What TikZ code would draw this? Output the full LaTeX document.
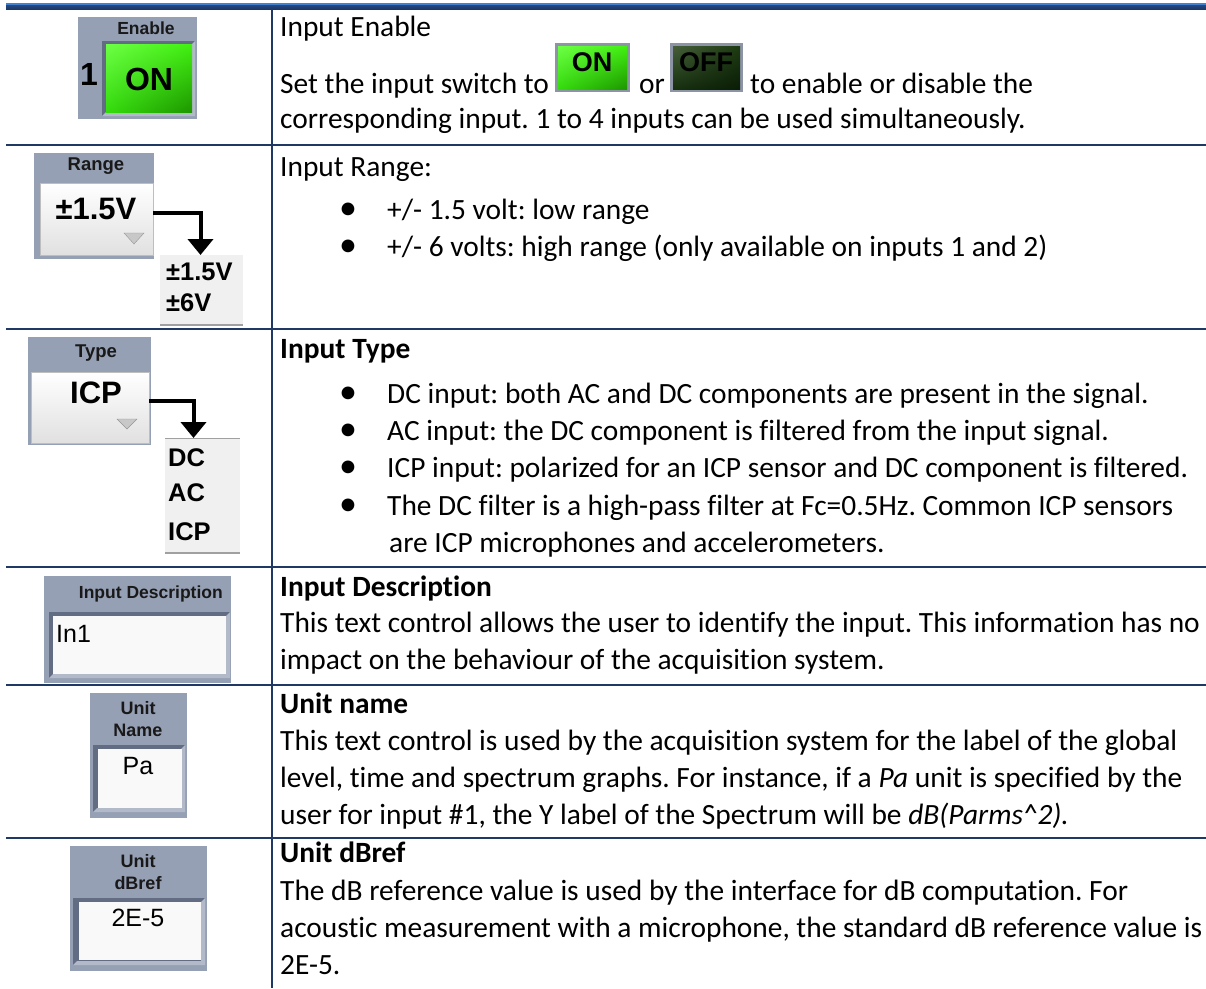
\documentclass[tikz,border=0pt]{standalone}
\usepackage{fontspec}
\setmainfont[Ligatures=NoCommon]{Carlito}
\newfontfamily\arialf{Liberation Sans}
\usetikzlibrary{arrows.meta,shadings}
\frenchspacing
\definecolor{panel}{RGB}{150,160,181}
\definecolor{navy}{RGB}{31,56,100}
\definecolor{barlight}{RGB}{66,128,208}
\definecolor{bardark}{RGB}{28,56,104}
\definecolor{bdark}{RGB}{98,108,130}
\definecolor{blight}{RGB}{178,186,202}
\definecolor{fieldbg}{RGB}{249,249,249}
\definecolor{listbg}{RGB}{240,240,240}
\definecolor{listline}{RGB}{160,160,160}
\definecolor{frameg}{RGB}{140,148,166}
\definecolor{gUL}{RGB}{110,255,70}
\definecolor{gUR}{RGB}{64,240,16}
\definecolor{gLL}{RGB}{52,220,12}
\definecolor{gLR}{RGB}{30,150,0}
\definecolor{dUL}{RGB}{70,95,58}
\definecolor{dUR}{RGB}{28,58,16}
\definecolor{dLL}{RGB}{22,48,14}
\definecolor{dLR}{RGB}{10,28,6}
\definecolor{tri}{RGB}{200,200,200}
\definecolor{trid}{RGB}{150,150,150}
\definecolor{btnedge}{RGB}{190,190,190}
\newcommand\mybevel[4]{%
  \fill[bdark] (#1,#2) rectangle (#3,#4);
  \fill[blight] (#3,#2) -- (#3,#4) -- (#1,#4) -- (#1+4,#4-4) -- (#3-4,#4-4) -- (#3-4,#2+4) -- cycle;}
\tikzset{
  box/.style={inner sep=0pt, outer sep=0pt, anchor=north west, draw=none},
  wlab/.style={inner sep=0pt, font=\arialf\bfseries\fontsize{17.5}{22}\selectfont, text=black!90, align=center},
  wbig/.style={inner sep=0pt, font=\arialf\bfseries\fontsize{31}{33}\selectfont, text=black},
  witem/.style={inner sep=0pt, anchor=west, font=\arialf\bfseries\fontsize{25.5}{27}\selectfont, text=black},
  wval/.style={inner sep=0pt, font=\arialf\fontsize{25}{26}\selectfont, text=black},
  btn/.style={box, top color=white, bottom color=black!12, draw=btnedge, line width=1pt},
  body/.style={inner sep=0pt, anchor=base west, font=\fontsize{29.4}{35}\selectfont},
  bodyb/.style={body, font=\fontsize{29.4}{35}\selectfont\bfseries},
  bul/.style={inner sep=0pt, anchor=base, font=\fontsize{36}{35}\selectfont},
  grid/.style={navy, line width=2pt},
  conn/.style={line width=4pt, -{Triangle[width=25pt,length=16pt]}}
}
\begin{document}
\begin{tikzpicture}[x=1pt,y=-1pt]
\useasboundingbox (0,0) rectangle (1206,988);
% top bar
\fill[barlight] (6,3) rectangle (1206,5.5);
\shade[top color=bardark!80!barlight, bottom color=bardark] (6,5.5) rectangle (1206,9);
% grid
\draw[grid] (272,9) -- (272,988);
\foreach \yy in {145,329,567,685,838} \draw[grid] (6,\yy) -- (1206,\yy);

% ---------- Row 1: Enable
\node[box, fill=panel, minimum width=119pt, minimum height=102pt] (enpanel) at (78,17) {};
\node[wlab] (enlab) at (146,28) {Enable};
\node[wbig, font=\arialf\bfseries\fontsize{32}{33}\selectfont] (en1) at (89,74) {1};
\mybevel{102}{41}{195}{116}
\node[box, upper left=gUL, upper right=gUR, lower left=gLL, lower right=gLR,
      minimum width=86pt, minimum height=68pt] (enbtn) at (106,44) {};
\node[wbig, font=\arialf\bfseries\fontsize{32}{33}\selectfont] (enon) at (149,79) {ON};

\node[body] (r1a) at (280,36) {Input Enable};
\node[body] (r1b) at (280,93) {Set the input switch to};
\node[box, fill=frameg, minimum width=75pt, minimum height=49pt] (onframe) at (555,43) {};
\node[box, upper left=gUL, upper right=gUR, lower left=gLL, lower right=gLR,
      minimum width=69pt, minimum height=43pt] (oninner) at (558,46) {};
\node[inner sep=0pt, font=\arialf\bfseries\fontsize{27}{29}\selectfont] (ontxt) at (592,62) {ON};
\node[body] (r1or) at (639,93) {or};
\node[box, fill=frameg, minimum width=73pt, minimum height=49pt] (offframe) at (670,43) {};
\node[box, upper left=dUL, upper right=dUR, lower left=dLL, lower right=dLR,
      minimum width=67pt, minimum height=43pt] (offinner) at (673,46) {};
\node[inner sep=0pt, font=\arialf\bfseries\fontsize{27}{29}\selectfont, text=black] (offtxt) at (706,62) {OFF};
\node[body] (r1c) at (750,93) {to enable or disable the};
\node[body] (r1d) at (280,128) {corresponding input. 1 to 4 inputs can be used simultaneously.};

% ---------- Row 2: Range
\node[box, fill=panel, minimum width=120pt, minimum height=106pt] (rgpanel) at (34,153) {};
\node[wlab, font=\arialf\bfseries\fontsize{18.5}{20}\selectfont] (rglab) at (96,166) {Range};
\node[btn, minimum width=113pt, minimum height=72pt] (rgbtn) at (40,183) {};
\node[wbig] (rgval) at (96,209) {±1.5V};
\filldraw[fill=tri, draw=trid] (124,233) -- (144,233) -- (134,244) -- cycle;
\node[box, fill=listbg, minimum width=83pt, minimum height=70pt] (rglist) at (160,255) {};
\draw[listline, line width=1.5pt] (rglist.south west) -- (rglist.south east);
\node[witem] (rgi1) at (166,272) {±1.5V};
\node[witem] (rgi2) at (166,303) {±6V};
\draw[conn] ([yshift=6pt]rgbtn.east) -| ([xshift=-1pt]rglist.north);

\node[body] (r2a) at (280,176) {Input Range:};
\node[bul] (r2b1) at (348,219) {•};
\node[body] (r2t1) at (387,219) {+/- 1.5 volt: low range};
\node[bul] (r2b2) at (348,256) {•};
\node[body] (r2t2) at (387,256) {+/- 6 volts: high range (only available on inputs 1 and 2)};

% ---------- Row 3: Type
\node[box, fill=panel, minimum width=123pt, minimum height=108pt] (tppanel) at (28,337) {};
\node[wlab, font=\arialf\bfseries\fontsize{18.5}{20}\selectfont] (tplab) at (96,353) {Type};
\node[btn, minimum width=118pt, minimum height=71pt] (tpbtn) at (31,372) {};
\node[wbig] (tpval) at (96,393) {ICP};
\filldraw[fill=tri, draw=trid] (117,419) -- (137,419) -- (127,429) -- cycle;
\node[box, fill=listbg, minimum width=75pt, minimum height=115pt] (tplist) at (165,438) {};
\draw[listline, line width=1pt] (tplist.north west) -- (tplist.north east);
\draw[listline, line width=1.5pt] (tplist.south west) -- (tplist.south east);
\node[witem] (tpi1) at (168,458) {DC};
\node[witem] (tpi2) at (168,493) {AC};
\node[witem] (tpi3) at (168,532) {ICP};
\draw[conn] ([yshift=7pt]tpbtn.east) -| ([xshift=-9pt]tplist.north);

\node[bodyb] (r3a) at (280,358) {Input Type};
\node[bul] (r3b1) at (348,403) {•};
\node[body] (r3t1) at (387,403) {DC input: both AC and DC components are present in the signal.};
\node[bul] (r3b2) at (348,440) {•};
\node[body] (r3t2) at (387,440) {AC input: the DC component is filtered from the input signal.};
\node[bul] (r3b3) at (348,477) {•};
\node[body] (r3t3) at (387,477) {ICP input: polarized for an ICP sensor and DC component is filtered.};
\node[bul] (r3b4) at (348,515) {•};
\node[body] (r3t4) at (387,515) {The DC filter is a high-pass filter at Fc=0.5Hz. Common ICP sensors};
\node[body] (r3t5) at (389,552) {are ICP microphones and accelerometers.};

% ---------- Row 4: Input Description
\node[box, fill=panel, minimum width=187pt, minimum height=107pt] (idpanel) at (44,576) {};
\node[wlab, anchor=east] (idlab) at (223,594) {Input Description};
\mybevel{49}{612}{230}{678}
\node[box, fill=fieldbg, minimum width=173pt, minimum height=58pt] (idfield) at (53,616) {};
\node[wval, anchor=west] (idval) at (56,634) {In1};

\node[bodyb] (r4a) at (280,596) {Input Description};
\node[body] (r4b) at (280,632) {This text control allows the user to identify the input. This information has no};
\node[body] (r4c) at (280,669) {impact on the behaviour of the acquisition system.};

% ---------- Row 5: Unit Name
\node[box, fill=panel, minimum width=97pt, minimum height=125pt] (unpanel) at (90,693) {};
\node[wlab, font=\arialf\bfseries\fontsize{18}{22}\selectfont] (unlab) at (138,719) {Unit\\Name};
\mybevel{93}{745}{185}{812}
\node[box, fill=fieldbg, minimum width=84pt, minimum height=59pt] (unfield) at (98,749) {};
\node[wval] (unval) at (138,766) {Pa};

\node[bodyb] (r5a) at (280,713) {Unit name};
\node[body] (r5b) at (280,750) {This text control is used by the acquisition system for the label of the global};
\node[body] (r5c) at (280,787) {level, time and spectrum graphs. For instance, if a \textit{Pa} unit is specified by the};
\node[body] (r5d) at (280,824) {user for input \#1, the Y label of the Spectrum will be \textit{dB(Parms\textasciicircum2).}};

% ---------- Row 6: Unit dBref
\node[box, fill=panel, minimum width=137pt, minimum height=125pt] (udpanel) at (70,846) {};
\node[wlab, font=\arialf\bfseries\fontsize{18}{22}\selectfont] (udlab) at (138,872) {Unit\\dBref};
\mybevel{73}{898}{205}{965}
\node[box, fill=fieldbg, minimum width=122pt, minimum height=58pt] (udfield) at (79,902) {};
\node[wval] (udval) at (138,918) {2E-5};

\node[bodyb] (r6a) at (280,862) {Unit dBref};
\node[body] (r6b) at (280,900) {The dB reference value is used by the interface for dB computation. For};
\node[body] (r6c) at (280,937) {acoustic measurement with a microphone, the standard dB reference value is};
\node[body] (r6d) at (280,974) {2E-5.};
\end{tikzpicture}
\end{document}
